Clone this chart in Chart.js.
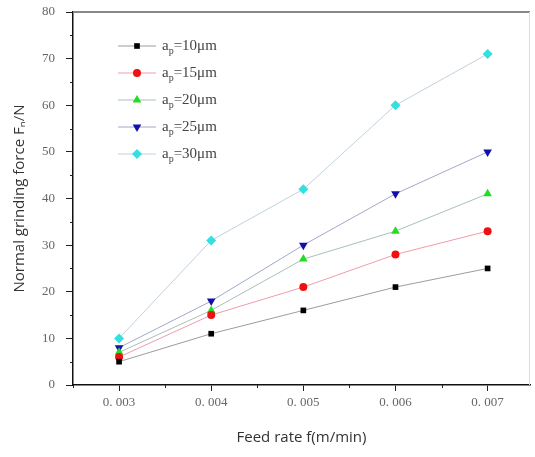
<!DOCTYPE html>
<html>
<head>
<meta charset="utf-8">
<script src="https://cdn.jsdelivr.net/npm/chart.js@4"></script>
<style>
  html, body { margin: 0; padding: 0; background: #fff; }
  #wrap { width: 535px; height: 457px; }
</style>
</head>
<body>
<div id="wrap"><canvas id="forceChart" width="535" height="457"></canvas></div>
<script>
// feed rate (m/min) and x tick labels
const feedRates = [0.003, 0.004, 0.005, 0.006, 0.007];
const xTickLabels = ['0. 003', '0. 004', '0. 005', '0. 006', '0. 007'];
const yTicks = [0, 10, 20, 30, 40, 50, 60, 70, 80];

// normal grinding force Fn (N) per grinding depth
const seriesNames = ['10μm', '15μm', '20μm', '25μm', '30μm'];
const force10 = [5, 11, 16, 21, 25];
const force15 = [6, 15, 21, 28, 33];
const force20 = [7, 16, 27, 33, 41];
const force25 = [8, 18, 30, 41, 50];
const force30 = [10, 31, 42, 60, 71];

const styles = [
    { marker: '#000000', line: 'rgba(90,90,90,0.6)', shape: 'rect', rot: 0, r: 4 },
    { marker: '#ee1111', line: 'rgba(230,90,110,0.6)', shape: 'circle', rot: 0, r: 4 },
    { marker: '#22dd22', line: 'rgba(110,150,140,0.6)', shape: 'triangle', rot: 0, r: 5 },
    { marker: '#1111aa', line: 'rgba(100,110,160,0.6)', shape: 'triangle', rot: 180, r: 5 },
    { marker: '#33e0e0', line: 'rgba(150,180,200,0.6)', shape: 'rectRot', rot: 0, r: 5 }
];

const allForces = [force10, force15, force20, force25, force30];

const datasets = allForces.map((vals, i) => ({
    label: seriesNames[i],
    data: vals.map((v, j) => ({ x: feedRates[j], y: v })),
    borderColor: styles[i].line,
    borderWidth: 1,
    backgroundColor: styles[i].marker,
    pointBackgroundColor: styles[i].marker,
    pointBorderColor: styles[i].marker,
    pointStyle: styles[i].shape,
    pointRotation: styles[i].rot,
    pointRadius: styles[i].r,
    pointBorderWidth: 0,
    tension: 0
}));

// frame, minor ticks and inside legend
const decorPlugin = {
    id: 'decor',
    afterDraw(chart) {
        const { ctx, chartArea: a, scales } = chart;
        const x = scales.x, y = scales.y;
        ctx.save();
        // top and right frame
        ctx.strokeStyle = '#888';
        ctx.lineWidth = 2;
        ctx.beginPath();
        ctx.moveTo(a.left, a.top);
        ctx.lineTo(a.right, a.top);
        ctx.stroke();
        ctx.strokeStyle = '#ddd';
        ctx.lineWidth = 1;
        ctx.beginPath();
        ctx.moveTo(a.right - 0.5, a.top);
        ctx.lineTo(a.right - 0.5, a.bottom);
        ctx.stroke();

        // minor ticks
        ctx.strokeStyle = '#222';
        ctx.lineWidth = 1;
        ctx.beginPath();
        for (let i = 0; i < yTicks.length - 1; i++) {
            const py = Math.round(y.getPixelForValue((yTicks[i] + yTicks[i + 1]) / 2)) + 0.5;
            ctx.moveTo(a.left, py);
            ctx.lineTo(a.left - 3, py);
        }
        const xs = [feedRates[0] - 0.0005].concat(feedRates.map(v => v + 0.0005));
        xs.forEach(v => {
            if (v < x.min || v > x.max) return;
            const px = Math.round(x.getPixelForValue(v)) + 0.5;
            ctx.moveTo(px, a.bottom);
            ctx.lineTo(px, a.bottom + 3);
        });
        ctx.stroke();

        // legend
        const lx = 118, ly = 46, dy = 27;
        chart.data.datasets.forEach((ds, i) => {
            const yy = ly + i * dy;
            ctx.strokeStyle = ds.borderColor;
            ctx.lineWidth = 1;
            ctx.beginPath();
            ctx.moveTo(lx, yy);
            ctx.lineTo(lx + 38, yy);
            ctx.stroke();
            ctx.fillStyle = ds.pointBackgroundColor;
            ctx.strokeStyle = ds.pointBorderColor;
            Chart.helpers.drawPoint(ctx, {
                pointStyle: ds.pointStyle,
                rotation: ds.pointRotation,
                radius: ds.pointRadius,
                borderWidth: 0
            }, lx + 19, yy);
            ctx.fillStyle = '#444';
            ctx.textBaseline = 'middle';
            ctx.textAlign = 'left';
            ctx.font = '15px "Liberation Serif"';
            let tx = lx + 44;
            ctx.fillText('a', tx, yy);
            tx += ctx.measureText('a').width;
            ctx.font = '10px "Liberation Serif"';
            ctx.fillText('p', tx, yy + 5);
            tx += ctx.measureText('p').width;
            ctx.font = '15px "Liberation Serif"';
            ctx.fillText('=' + ds.label, tx, yy);
        });
        ctx.restore();
    }
};

const ctx = document.getElementById('forceChart').getContext('2d');
const forceChart = new Chart(ctx, {
    type: 'line',
    data: { datasets },
    options: {
        responsive: false,
        animation: false,
        layout: { padding: { top: 12, right: 0, left: 0, bottom: 0 } },
        plugins: {
            legend: { display: false },
            tooltip: { enabled: false }
        },
        scales: {
            x: {
                type: 'linear',
                min: 0.0025,
                max: 0.00746,
                afterBuildTicks: (scale) => {
                    scale.ticks = feedRates.map(v => ({ value: v }));
                },
                afterFit: (scale) => {
                    scale.height = 72;
                    scale.paddingLeft = 0;
                    scale.paddingRight = 0;
                },
                border: { color: '#111', width: 1.5 },
                grid: { drawOnChartArea: false, drawTicks: true, tickLength: 6, color: '#222' },
                ticks: {
                    padding: 4,
                    color: '#666',
                    font: { family: '"Liberation Serif"', size: 13 },
                    callback: (v, i) => xTickLabels[i]
                },
                title: {
                    display: true,
                    text: 'Feed rate f(m/min)',
                    color: '#333',
                    font: { family: '"Open Sans"', size: 15 },
                    padding: { top: 0, bottom: 10 }
                }
            },
            y: {
                min: 0,
                max: 80,
                afterBuildTicks: (scale) => {
                    scale.ticks = yTicks.map(v => ({ value: v }));
                },
                afterFit: (scale) => {
                    scale.width = 73;
                    scale.paddingTop = 0;
                    scale.paddingBottom = 0;
                },
                border: { color: '#111', width: 1.5 },
                grid: { drawOnChartArea: false, drawTicks: true, tickLength: 7, color: '#222' },
                ticks: {
                    padding: 11,
                    color: '#666',
                    font: { family: '"Liberation Serif"', size: 13 }
                },
                title: {
                    display: true,
                    text: 'Normal grinding force Fₙ/N',
                    color: '#333',
                    font: { family: '"Open Sans"', size: 15 },
                    padding: { top: 11, bottom: 0 }
                }
            }
        }
    },
    plugins: [decorPlugin]
});
</script>
</body>
</html>
